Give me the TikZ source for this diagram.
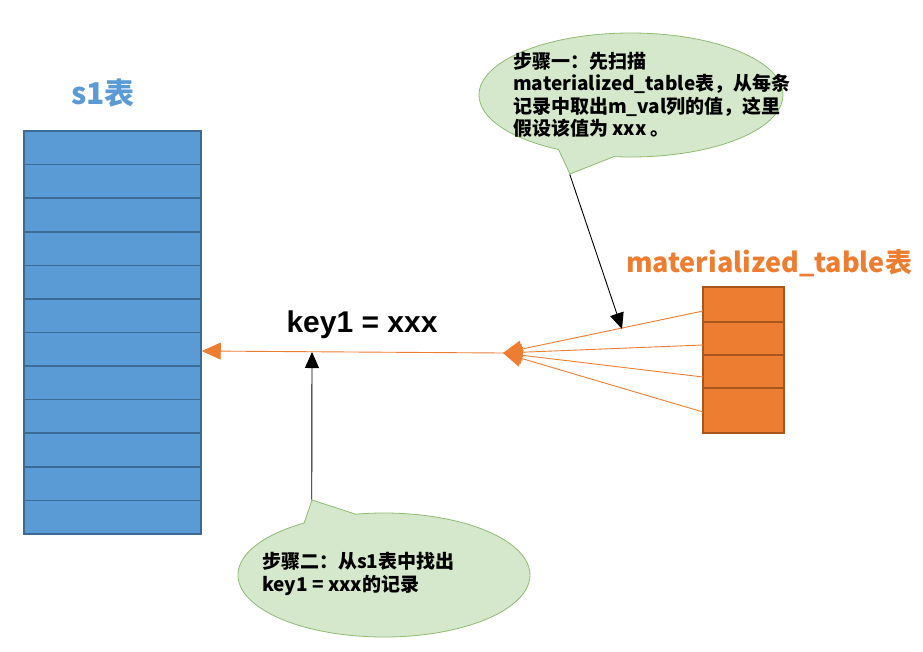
\documentclass[tikz,border=0pt]{standalone}
\usepackage{fontspec}
\setmainfont{Noto Sans CJK SC}
\newfontfamily\keyfont{Liberation Sans}
\usetikzlibrary{shapes.callouts,arrows.meta}

\definecolor{sblue}{HTML}{5B9BD5}
\definecolor{sblueline}{HTML}{3B6A94}
\definecolor{morange}{HTML}{ED7D31}
\definecolor{morangeline}{HTML}{A9561E}
\definecolor{notegreen}{HTML}{D5E8CC}
\definecolor{notegreenline}{HTML}{8DBB70}

\tikzset{
  s1box/.style={draw=sblueline, fill=sblue, line width=1.5pt, minimum width=177pt, minimum height=403pt, inner sep=0pt},
  mbox/.style={draw=morangeline, fill=morange, line width=1.5pt, minimum width=81pt, minimum height=146pt, inner sep=0pt},
  note/.style={ellipse callout, draw=notegreenline, fill=notegreen, line width=0.8pt, inner sep=0pt, callout pointer arc=22},
  notetext/.style={align=left, font=\fontsize{19}{22.5}\selectfont\bfseries, inner sep=0pt},
  fanarrow/.style={draw=morange, line width=0.9pt, -{Triangle[length=19pt,width=17pt]}},
  blackarrow/.style={draw=black, line width=0.9pt, -{Triangle[length=16pt,width=14pt]}}
}

\begin{document}
\begin{tikzpicture}[x=1pt, y=-1pt]
  \useasboundingbox (0,0) rectangle (923,651);

  % s1 table
  \node[font=\fontsize{30}{33}\selectfont\bfseries, text=sblue] (s1title) at (103,93) {s1表};
  \node[s1box] (s1) at (112.5,332.5) {};
  \foreach \i in {1,...,11}
    \draw[draw=sblueline, line width=1.6pt] (24,131+\i*33.58) -- (201,131+\i*33.58);

  % materialized table
  \node[font=\fontsize{27}{30}\selectfont\bfseries, text=morange] (mtitle) at (769,263) {materialized\_table表};
  \node[mbox] (mt) at (743.5,360) {};
  \foreach \y in {322,355,388}
    \draw[draw=morangeline, line width=1.6pt] (703,\y) -- (784,\y);

  % fan into the join point
  \coordinate (fan) at (503,353);
  \foreach \y in {311,345,377,412}
    \draw[fanarrow] (703,\y) -- (fan);
  \draw[fanarrow] (fan) -- (s1.east |- 0,351);

  \node[font=\keyfont\fontsize{30}{34}\selectfont\bfseries] (key) at (362,325) {key1 = xxx};

  % step one
  \node[note, minimum width=304pt, minimum height=124pt, callout absolute pointer={(570,174)}] (step1) at (631,95) {};
  \node[notetext, anchor=west] (step1text) at (513,95) {步骤一：先扫描\\materialized\_table表，从每条\\记录中取出m\_val列的值，这里\\假设该值为 xxx 。};
  \coordinate (hit1) at (622,329);
  \draw[blackarrow] (step1.pointer) -- (hit1);

  % step two
  \node[note, minimum width=292pt, minimum height=124pt, callout absolute pointer={(312,500)}] (step2) at (384,575) {};
  \node[notetext, anchor=west] (step2text) at (262,574) {步骤二：从s1表中找出\\key1 = xxx的记录};
  \coordinate (hit2) at (312,352);
  \draw[blackarrow] (step2.pointer) -- (hit2);
\end{tikzpicture}
\end{document}
